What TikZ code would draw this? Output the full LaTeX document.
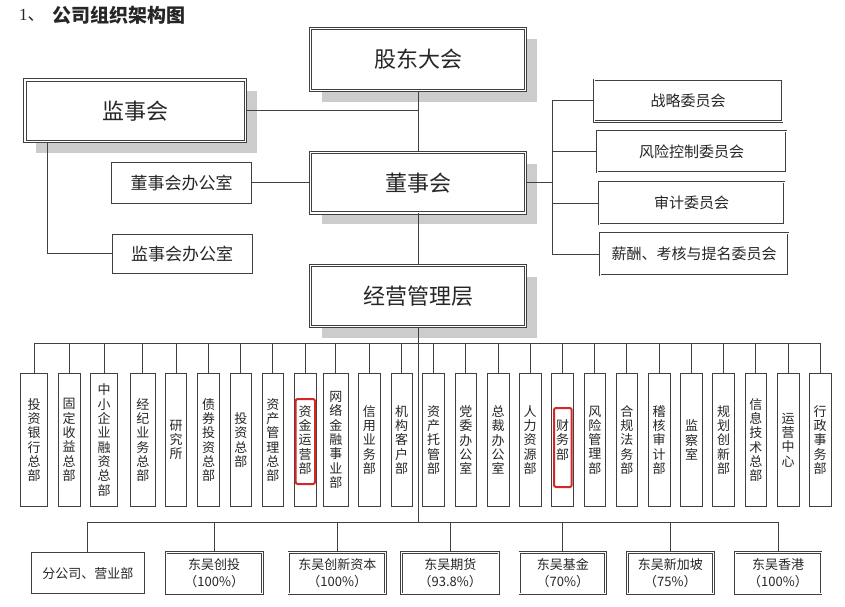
\documentclass[tikz,border=0pt]{standalone}
\usepackage{fontspec}
\setmainfont{Noto Sans CJK SC}
\newfontfamily\serifnum{Liberation Serif}
\definecolor{redmark}{RGB}{215,38,38}
\definecolor{shadowgray}{RGB}{204,204,204}
\tikzset{
  base/.style={text=black!85, inner sep=0pt, fill=white},
  ln/.style={draw=black!75, line width=1pt},
  bigbox/.style={base, draw=black!75, double=white, double distance=1.1pt, line width=1pt,
     font=\fontsize{22}{24}\selectfont},
  cbox/.style={base, draw=black!75, double=white, double distance=1pt, line width=0.9pt,
     font=\fontsize{15}{17}\selectfont},
  obox/.style={base, draw=black!75, line width=1pt, font=\fontsize{17}{19}\selectfont},
  dept/.style={base, draw=black!75, line width=0.9pt, minimum height=133.3pt, align=center,
     font=\fontsize{13}{14.3}\selectfont},
  subbox/.style={cbox, align=center, minimum height=41.3pt, font=\fontsize{13}{16.7}\selectfont},
  redbox/.style={draw=redmark, line width=2pt, rounded corners=2pt},
  shadowstrip/.style={draw=shadowgray, fill=shadowgray, line width=11pt, line cap=butt, line join=miter}
}
\begin{document}
\begin{tikzpicture}[x=1pt,y=-1pt]
\useasboundingbox (0,0) rectangle (845,606);

% title
\node[base, anchor=west, font=\serifnum\fontsize{17}{19}\selectfont] (t1) at (19,15) {1\fontspec{Noto Sans CJK SC}、};
\node[base, anchor=west, font=\bfseries\fontsize{19}{21}\selectfont] (t2) at (52,15) {公司组织架构图};

% drop shadows of the main boxes (drawn first, behind the boxes)
\draw[shadowstrip] (531,39.3) -- (531,96.2) -- (321.5,96.2);
\draw[shadowstrip] (251.2,91) -- (251.2,147.2) -- (36,147.2);
\draw[shadowstrip] (531,163.6) -- (531,218.5) -- (321.5,218.5);
\draw[shadowstrip] (531,276.7) -- (531,332.2) -- (321.5,332.2);

% main boxes
\node[bigbox, minimum width=215pt, minimum height=62.4pt] (gd) at (418,59.5) {股东大会};
\node[bigbox, minimum width=220.7pt, minimum height=61.7pt] (jsh) at (135.3,110.8) {监事会};
\node[bigbox, minimum width=215pt, minimum height=60.3pt] (dsh) at (418,182.8) {董事会};
\node[bigbox, minimum width=215pt, minimum height=61pt] (jy) at (418,296.2) {经营管理层};

% offices
\node[obox, minimum width=140pt, minimum height=41pt] (dshb) at (181.7,182.8) {董事会办公室};
\node[obox, minimum width=140pt, minimum height=39pt] (jshb) at (182,253.8) {监事会办公室};

% committees
\node[cbox, minimum width=188pt, minimum height=41.7pt] (c1) at (688,100.8) {战略委员会};
\node[cbox, minimum width=189pt, minimum height=41pt] (c2) at (691.5,151.5) {风险控制委员会};
\node[cbox, minimum width=185pt, minimum height=42pt] (c3) at (691.5,203) {审计委员会};
\node[cbox, minimum width=188pt, minimum height=42pt] (c4) at (694,254) {薪酬、考核与提名委员会};

% top connectors
\draw[ln] (gd.south) -- (dsh.north);
\draw[ln] (jsh.east) -- (jsh.east -| gd.south);
\draw[ln] (dsh.south) -- (jy.north);
\draw[ln] (dshb.east) -- (dsh.west);
\draw[ln] ([xshift=22.7pt]jsh.south west) |- (jshb.west);
\coordinate (brk) at (552,0);
\draw[ln] (dsh.east) -- (dsh.east -| brk);
\draw[ln] (c1.west -| brk) -- (c4.west -| brk);
\foreach \i in {1,...,4} { \draw[ln] (c\i.west -| brk) -- (c\i.west); }

% departments
\coordinate (db) at (0,343);
\coordinate (bb) at (0,522.3);
\foreach \i/\x/\w/\t in {
 1/34/26.7/{投\\资\\银\\行\\总\\部},
 2/69.2/21.7/{固\\定\\收\\益\\总\\部},
 3/104/26.7/{中\\小\\企\\业\\融\\资\\总\\部},
 4/142.8/24.3/{经\\纪\\业\\务\\总\\部},
 5/176.2/21/{研\\究\\所},
 6/208.5/21.7/{债\\券\\投\\资\\总\\部},
 7/240.8/21.7/{投\\资\\总\\部},
 8/272.8/21/{资\\产\\管\\理\\总\\部},
 9/305.2/21.7/{资\\金\\运\\营\\部},
 10/335.8/25/{网\\络\\金\\融\\事\\业\\部},
 11/369.3/21.3/{信\\用\\业\\务\\部},
 12/401.7/21.3/{机\\构\\客\\户\\部},
 13/433.5/21.7/{资\\产\\托\\管\\部},
 14/465.8/21.7/{党\\委\\办\\公\\室},
 15/498.2/21.7/{总\\裁\\办\\公\\室},
 16/530.2/21.7/{人\\力\\资\\源\\部},
 17/562.5/21.7/{财\\务\\部},
 18/594.8/21.7/{风\\险\\管\\理\\部},
 19/626.8/21.7/{合\\规\\法\\务\\部},
 20/659.2/21.7/{稽\\核\\审\\计\\部},
 21/691.5/21.7/{监\\察\\室},
 22/723.5/21.7/{规\\划\\创\\新\\部},
 23/755.8/21.7/{信\\息\\技\\术\\总\\部},
 24/788.2/21.7/{运\\营\\中\\心},
 25/820.2/21.7/{行\\政\\事\\务\\部}} {
  \node[dept, minimum width=\w pt] (d\i) at (\x,440) {\t};
  \draw[ln] (d\i.north) -- (d\i.north |- db);
}
\draw[ln] (d1.north |- db) -- (d25.north |- db);
\draw[ln] (jy.south) -- (jy.south |- bb);

% red highlight marks
\draw[redbox] ([shift={(-9.5,-41)}]d9.center) rectangle ([shift={(9.8,44)}]d9.center);
\draw[redbox] ([shift={(-8.5,-32)}]d17.center) rectangle ([shift={(9.2,47)}]d17.center);

% subsidiaries
\node[obox, minimum width=112.3pt, minimum height=41.3pt, font=\fontsize{13}{16}\selectfont] (s1) at (87.9,573.3) {分公司、营业部};
\node[subbox, minimum width=96.3pt] (s2) at (214.2,573.3) {东吴创投\\（100\%）};
\node[subbox, minimum width=96.7pt] (s3) at (337.3,573.3) {东吴创新资本\\（100\%）};
\node[subbox, minimum width=97.3pt] (s4) at (450.3,573.3) {东吴期货\\（93.8\%）};
\node[subbox, minimum width=85.7pt] (s5) at (562.8,573.3) {东吴基金\\（70\%）};
\node[subbox, minimum width=86pt] (s6) at (670.3,573.3) {东吴新加坡\\（75\%）};
\node[subbox, minimum width=86pt] (s7) at (778,573.3) {东吴香港\\（100\%）};
\draw[ln] (s1.north |- bb) -- (s7.north |- bb);
\foreach \i in {1,...,7} { \draw[ln] (s\i.north) -- (s\i.north |- bb); }
\end{tikzpicture}
\end{document}
